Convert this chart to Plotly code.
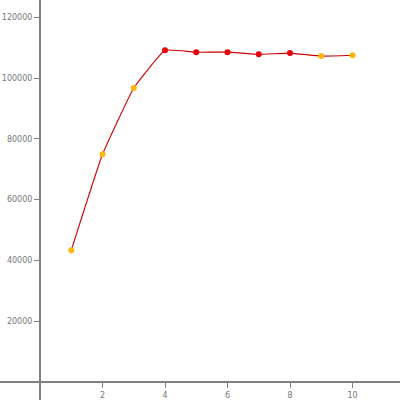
import plotly.graph_objects as go

x_vals = [1, 2, 3, 4, 5, 6, 7, 8, 9, 10]
y_vals = [43300, 74900, 96700, 109100, 108500, 108500, 107800, 108200, 107200, 107500]
point_colors = ['#ffb70f', '#ffb70f', '#ffb70f', '#e8000b', '#e8000b',
                '#e8000b', '#e8000b', '#e8000b', '#ffb70f', '#ffb70f']
x_ticks = [2, 4, 6, 8, 10]
y_ticks = [20000, 40000, 60000, 80000, 100000, 120000]

x_range = [-1.28, 11.52]
y_range = [-5920, 125660]

fig = go.Figure()

fig.add_trace(go.Scatter(
    x=x_vals, y=y_vals,
    mode='lines+markers',
    line=dict(color='#cc0000', width=1.1, shape='spline', smoothing=0.3),
    marker=dict(color=point_colors, size=6, symbol='circle'),
    hoverinfo='x+y',
    showlegend=False,
))

# axes drawn through the origin, like the original
x0_frac = (0 - x_range[0]) / (x_range[1] - x_range[0])
y0_frac = (0 - y_range[0]) / (y_range[1] - y_range[0])

fig.update_layout(
    width=400, height=400,
    margin=dict(l=0, r=0, t=0, b=0),
    paper_bgcolor='white',
    plot_bgcolor='white',
    font=dict(family='DejaVu Sans', size=8, color='#777777'),
    xaxis=dict(
        range=x_range, anchor='free', position=y0_frac,
        showgrid=False, zeroline=False,
        showline=True, linecolor='#808080', linewidth=2,
        ticks='outside', ticklen=5, tickcolor='#808080', tickwidth=1,
        tickvals=x_ticks, ticktext=[str(v) for v in x_ticks],
    ),
    yaxis=dict(
        range=y_range, anchor='free', position=x0_frac,
        showgrid=False, zeroline=False,
        showline=True, linecolor='#808080', linewidth=2,
        ticks='outside', ticklen=5, tickcolor='#808080', tickwidth=1,
        tickvals=y_ticks, ticktext=[str(v) for v in y_ticks],
    ),
)

# drop the default page margin so the figure sits at the window corner
fig.write_html("out.html", config={'displayModeBar': False},
               post_script="document.body.style.margin='0';")
